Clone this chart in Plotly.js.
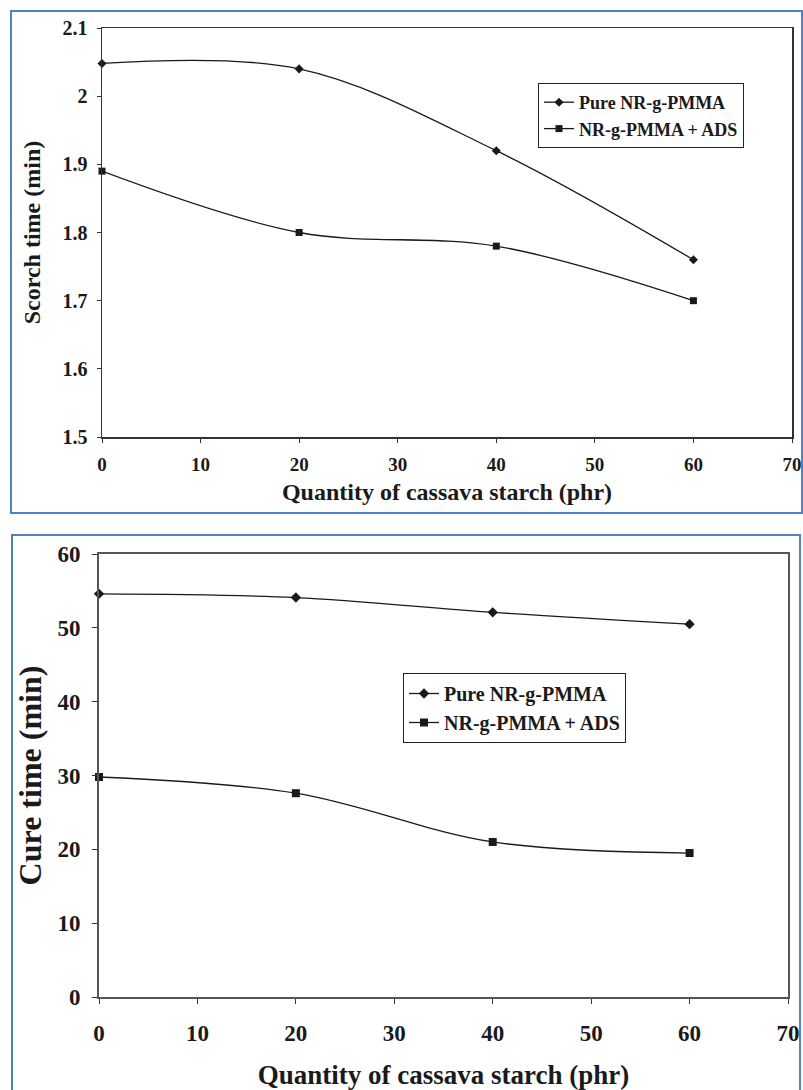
<!DOCTYPE html>
<html>
<head>
<meta charset="utf-8">
<script src="https://cdn.plot.ly/plotly-3.0.1.min.js"></script>
<style>
html,body{margin:0;padding:0;background:#fff;}
#chart{width:803px;height:1090px;}
</style>
</head>
<body>
<div id="chart"></div>
<script>
// ---- data ----
const starch = [0, 20, 40, 60];               // Quantity of cassava starch (phr)
const scorchPure = [2.048, 2.04, 1.92, 1.76];  // Scorch time (min), Pure NR-g-PMMA
const scorchADS  = [1.89, 1.80, 1.78, 1.70];   // Scorch time (min), NR-g-PMMA + ADS
const curePure = [54.6, 54.1, 52.1, 50.5];     // Cure time (min), Pure NR-g-PMMA
const cureADS  = [29.8, 27.6, 21.0, 19.5];     // Cure time (min), NR-g-PMMA + ADS
const seriesNames = ['Pure NR-g-PMMA', 'NR-g-PMMA + ADS'];
const xTitle = 'Quantity of cassava starch (phr)';
const yTitleTop = 'Scorch time (min)';
const yTitleBottom = 'Cure time (min)';

const W = 803, H = 1090;
const FAM = '"Liberation Serif", "Times New Roman", serif';
const ink = '#1a1a1a';
function px(x){return x/W;}
function py(y){return 1 - y/H;}

function trace(x, y, name, sym, xa, ya, leg, size){
  return {x:x, y:y, name:name, type:'scatter', mode:'lines+markers',
    xaxis:xa, yaxis:ya, legend:leg, cliponaxis:false,
    line:{color:ink, width:1.3, shape:'spline', smoothing:1},
    marker:{symbol:sym, size:size, color:ink}};
}

const data = [
  trace(starch, scorchPure, seriesNames[0], 'diamond', 'x', 'y', 'legend', 7),
  trace(starch, scorchADS,  seriesNames[1], 'square',  'x', 'y', 'legend', 7),
  trace(starch, curePure, seriesNames[0], 'diamond', 'x2', 'y2', 'legend2', 8),
  trace(starch, cureADS,  seriesNames[1], 'square',  'x2', 'y2', 'legend2', 8)
];

const fnt = (s)=>({family:FAM, size:s, color:ink, weight:'bold'});

const layout = {
  width:W, height:H, margin:{l:0,r:0,t:0,b:0},
  paper_bgcolor:'#fff', plot_bgcolor:'#fff',
  showlegend:true,
  xaxis:{domain:[px(102), px(792)], anchor:'y', range:[0,70], dtick:10, tick0:0,
    showgrid:false, zeroline:false, showline:true, mirror:true, linecolor:'#333', linewidth:1.5,
    ticks:'outside', ticklen:4, tickcolor:'#333', tickfont:fnt(19), ticklabelstandoff:6,
    title:{text:xTitle, font:fnt(24), standoff:9}},
  yaxis:{domain:[py(437), py(28)], anchor:'x', range:[1.5,2.1], dtick:0.1, tick0:1.5,
    showgrid:false, zeroline:false, showline:true, mirror:true, linecolor:'#333', linewidth:1.5,
    ticks:'outside', ticklen:4, tickcolor:'#333', tickfont:fnt(20), ticklabelstandoff:5,
    title:{text:yTitleTop, font:fnt(24), standoff:15}},
  xaxis2:{domain:[px(99), px(788)], anchor:'y2', range:[0,70], dtick:10, tick0:0,
    showgrid:false, zeroline:false, showline:true, mirror:true, linecolor:'#555', linewidth:2,
    ticks:'outside', ticklen:5, tickcolor:'#333', tickfont:fnt(23), ticklabelstandoff:9,
    title:{text:xTitle, font:fnt(27), standoff:22}},
  yaxis2:{domain:[py(997), py(554)], anchor:'x2', range:[0,60], dtick:10, tick0:0,
    showgrid:false, zeroline:false, showline:true, mirror:true, linecolor:'#555', linewidth:2,
    ticks:'outside', ticklen:5, tickcolor:'#333', tickfont:fnt(23), ticklabelstandoff:7,
    title:{text:yTitleBottom, font:fnt(32), standoff:6}},
  legend:{x:px(538), y:py(83), xanchor:'left', yanchor:'top', bgcolor:'#fff',
    bordercolor:'#222', borderwidth:1, font:fnt(18), itemwidth:30, tracegroupgap:0},
  legend2:{x:px(403), y:py(673), xanchor:'left', yanchor:'top', bgcolor:'#fff',
    bordercolor:'#222', borderwidth:1, font:fnt(20), itemwidth:30, tracegroupgap:0},
  shapes:[
    {type:'rect', xref:'paper', yref:'paper', x0:px(11), x1:px(802), y0:py(513), y1:py(11),
     line:{color:'#4f81c7', width:2}, layer:'above'},
    {type:'rect', xref:'paper', yref:'paper', x0:px(12), x1:px(800), y0:py(1095), y1:py(535),
     line:{color:'#4f81c7', width:2}, layer:'above'}
  ]
};

Plotly.newPlot('chart', data, layout, {displayModeBar:false, staticPlot:true});
</script>
</body>
</html>
